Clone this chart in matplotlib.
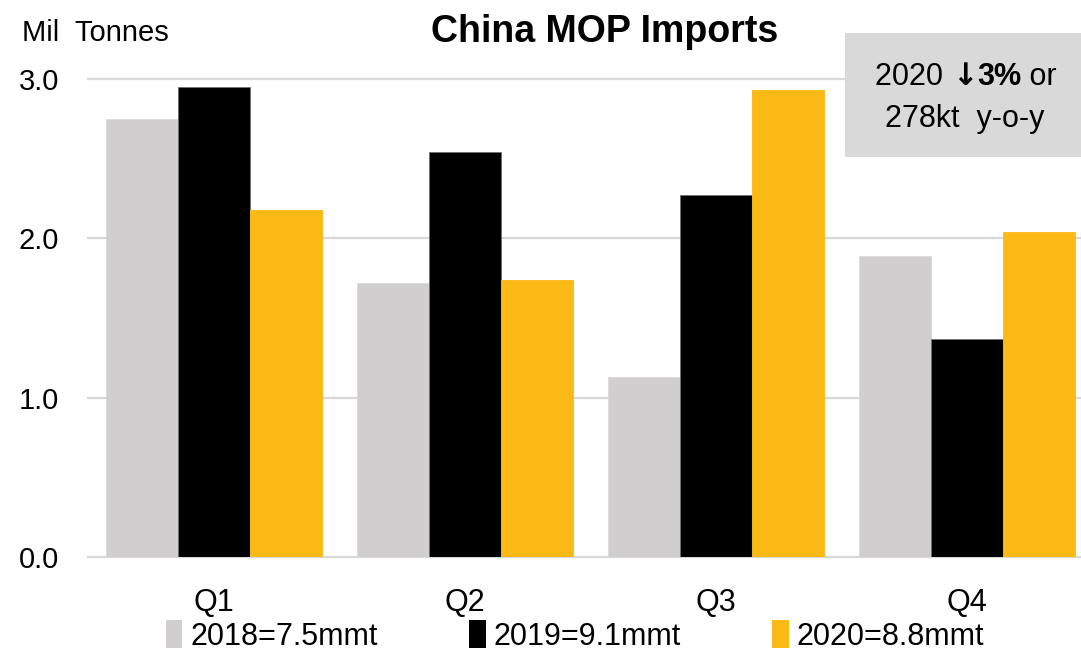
import matplotlib
matplotlib.use("Agg")
import matplotlib.pyplot as plt
from matplotlib.patches import Patch, Rectangle
from matplotlib.offsetbox import TextArea, HPacker, AnchoredOffsetbox

# Quarterly China MOP (muriate of potash) imports, million tonnes
quarters = ["Q1", "Q2", "Q3", "Q4"]
imports_2018 = [2.75, 1.72, 1.13, 1.89]
imports_2019 = [2.95, 2.54, 2.27, 1.37]
imports_2020 = [2.18, 1.74, 2.93, 2.04]
series_labels = ["2018=7.5mmt", "2019=9.1mmt", "2020=8.8mmt"]
series_colors = ["#D0CECF", "#000000", "#FBB915"]
y_ticks = [0.0, 1.0, 2.0, 3.0]

plt.rcParams["font.family"] = ["Liberation Sans", "DejaVu Sans"]

W, H = 1081, 652
fig = plt.figure(figsize=(W / 100, H / 100), dpi=100)


def fx(px):
    return px / W


def fy(py):
    return 1 - py / H


# axes geometry: 0.0 at y=557px, 1 unit = 159.3px, left edge at 88px
unit = 159.3
y_top = 3.05
ax_bottom_px = 557
ax = fig.add_axes([fx(88), fy(ax_bottom_px), 1 - fx(88), y_top * unit / H])

x = list(range(len(quarters)))
bw = 0.287
all_series = [imports_2018, imports_2019, imports_2020]
edge_cols = ["#DADADA", "#707070", "#FBB915"]
for i, (vals, col, ec) in enumerate(zip(all_series, series_colors, edge_cols)):
    pos = [xi + (i - 1) * bw for xi in x]
    ax.bar(pos, vals, width=bw, color=col, edgecolor=ec, linewidth=0.6, zorder=2)

for t in y_ticks:
    ax.axhline(t, color="#D9D9D9", linewidth=1.6, zorder=1, clip_on=False)

ax.set_xlim(-0.502, 3.454)
ax.set_ylim(0, y_top)
for s in ax.spines.values():
    s.set_visible(False)
ax.set_yticks(y_ticks)
ax.set_yticklabels([f"{t:.1f}" for t in y_ticks], fontsize=21)
ax.set_xticks(x)
ax.set_xticklabels(quarters, fontsize=22)
ax.tick_params(axis="y", length=0, pad=21)
ax.tick_params(axis="x", length=0, pad=22)

# titles
fig.text(fx(605), fy(42), "China MOP Imports", fontsize=27, fontweight="bold",
         ha="center", va="baseline")
fig.text(fx(22), fy(41), "Mil  Tonnes", fontsize=21, ha="left", va="baseline")

# call-out box
fig.patches.append(Rectangle((fx(845), fy(157)), fx(1081 - 845), (157 - 33) / H,
                             transform=fig.transFigure, facecolor="#D9D9D9",
                             edgecolor="none", zorder=0))
line1 = HPacker(children=[
    TextArea("2020 ", textprops=dict(fontsize=22)),
    TextArea("\u2193", textprops=dict(fontsize=22, fontweight="bold",
                                      family=["DejaVu Sans"])),
    TextArea("3%", textprops=dict(fontsize=22, fontweight="bold")),
    TextArea(" or", textprops=dict(fontsize=22)),
], align="baseline", pad=0, sep=0)
box1 = AnchoredOffsetbox(loc="center", child=line1, frameon=False, pad=0, borderpad=0,
                         bbox_to_anchor=(fx(966), fy(77)),
                         bbox_transform=fig.transFigure)
fig.add_artist(box1)
fig.text(fx(965), fy(127), "278kt  y-o-y", fontsize=22, ha="center", va="baseline")

# legend
handles = [Patch(facecolor=c, edgecolor="none") for c in series_colors]
fig.legend(handles, series_labels, loc="center", bbox_to_anchor=(fx(575), fy(636)),
           ncol=3, frameon=False, fontsize=22, handlelength=0.55, handleheight=1.0,
           handletextpad=0.25, columnspacing=3.0, borderpad=0)

fig.savefig("out.png", dpi=100)
